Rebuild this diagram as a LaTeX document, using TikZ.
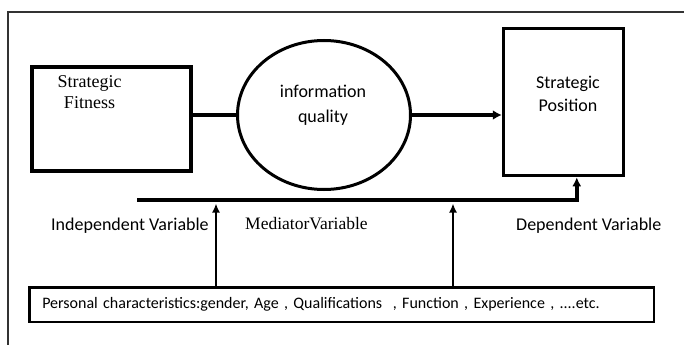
\documentclass[tikz,border=0pt]{standalone}
\usepackage{fontspec}
\setmainfont{Liberation Serif}
\newfontfamily\calibri{Carlito}
\usetikzlibrary{positioning,arrows.meta,shapes.geometric}

\begin{document}
\begin{tikzpicture}[x=1pt,y=-1pt,box/.style={draw,line width=3.5pt,inner sep=0pt},txt/.style={inner sep=0pt,font=\calibri\fontsize{18}{23}\selectfont},line/.style={line width=4pt},arr/.style={line width=2pt,-{Latex[length=9pt,width=8pt]}}]
\useasboundingbox (0,0) rectangle (685,345);
\draw[line width=1.8pt,black!80] (8,345) -- (8,12) -- (684,12);
\node[box,minimum width=159pt,minimum height=104pt] (fit) at (111.5,119) {};
\node[box,ellipse,line width=3pt,minimum width=173pt,minimum height=149pt] (iq) at (324,115) {};
\node[box,minimum width=120pt,minimum height=147pt] (pos) at (563.5,102) {};
\node[box,line width=2.5pt,text width=598.5pt,align=left,inner xsep=13pt,minimum height=34.5pt,font=\calibri\fontsize{16}{18}\selectfont] (pc) at (341.5,304.5) {Personal characteristics:gender, Age , Qualifications~ , Function , Experience , ....etc.};
\node[inner sep=0pt,align=center,font=\fontsize{18}{21}\selectfont] (fittext) at (89.5,92.4) {Strategic\\Fitness};
\node[txt,align=center,font=\calibri\fontsize{18}{25.4}\selectfont] (iqtext) at (323,105) {information\\quality};
\node[txt,align=center,font=\calibri\fontsize{18}{23.4}\selectfont] (postext) at (568,94) {Strategic\\Position};
\node[txt,anchor=base west] (iv) at (51,230) {Independent Variable};
\node[inner sep=0pt,anchor=base west,font=\fontsize{17.5}{21}\selectfont] (mv) at (245,229) {MediatorVariable};
\node[txt,anchor=base west] (dv) at (516,230) {Dependent Variable};
\coordinate (ls) at (137,200);\coordinate (a1) at (216,203.5);\coordinate (a2) at (453,203.5);
\draw[line] (fit.east |- iq.west) -- (iq.west);
\draw[line,-{Latex[length=9pt,width=10pt]}] (iq.east) -- (iq.east -| pos.west);
\draw[line width=3.5pt,-{Latex[length=9pt,width=9pt]}] (ls) -| (pos.-80);
\draw[arr] (pc.north -| a1) -- (a1);\draw[arr] (pc.north -| a2) -- (a2);
\end{tikzpicture}
\end{document}
